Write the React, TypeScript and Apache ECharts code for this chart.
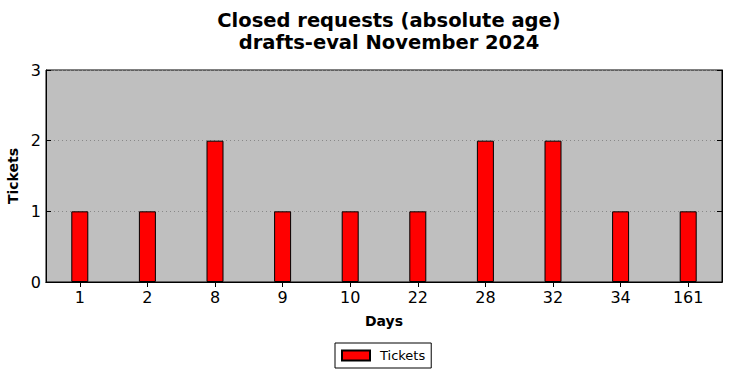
import React, { useEffect, useRef } from "react";
import * as echarts from "echarts";

const categories = ["1", "2", "8", "9", "10", "22", "28", "32", "34", "161"];
const tickets = [1, 1, 2, 1, 1, 1, 2, 2, 1, 1];
const titleLines = ["Closed requests (absolute age)", "drafts-eval November 2024"];

const FONT = "DejaVu Sans";

export default function App() {
  const ref = useRef<HTMLDivElement>(null);
  useEffect(() => {
    if (!ref.current) return;
    const chart = echarts.init(ref.current, null, { renderer: "svg" });
    const tick = { show: true, inside: true, length: 5, alignWithLabel: true, lineStyle: { color: "#000" } };
    chart.setOption({
      animation: false,
      title: {
        text: titleLines.join("\n"),
        left: 384,
        textAlign: "center",
        top: 4,
        textStyle: { fontFamily: FONT, fontWeight: "bold", fontSize: 19.5, color: "#000", lineHeight: 22 },
      },
      grid: {
        left: 46,
        right: 9,
        top: 70,
        bottom: 96,
        outerBoundsMode: "none",
        containLabel: false,
        show: true,
        backgroundColor: "#bfbfbf",
        borderColor: "#000",
        borderWidth: 1,
      },
      legend: {
        top: 343,
        left: 335,
        data: ["Tickets"],
        icon: "rect",
        itemWidth: 28,
        itemHeight: 10,
        itemGap: 10,
        padding: [6, 6, 6, 6],
        borderColor: "#000",
        borderWidth: 1,
        borderRadius: 0,
        textStyle: { fontFamily: FONT, fontSize: 13, color: "#000", padding: [0, 0, 0, 5] },
      },
      xAxis: [
        {
          type: "category",
          data: categories,
          name: "Days",
          nameLocation: "middle",
          nameGap: 32,
          nameTextStyle: { fontFamily: FONT, fontWeight: "bold", fontSize: 14, color: "#000" },
          axisLine: { lineStyle: { color: "#000" } },
          axisTick: tick,
          axisLabel: { fontFamily: FONT, fontSize: 16, color: "#000", margin: 7 },
        },
        {
          type: "category",
          data: categories,
          position: "top",
          axisLine: { lineStyle: { color: "#000" } },
          axisTick: tick,
          axisLabel: { show: false },
        },
      ],
      yAxis: [
        {
          type: "value",
          min: 0,
          max: 3,
          interval: 1,
          name: "Tickets",
          nameLocation: "middle",
          nameGap: 23,
          nameTextStyle: { fontFamily: FONT, fontWeight: "bold", fontSize: 14, color: "#000" },
          axisLine: { show: true, lineStyle: { color: "#000" } },
          axisTick: { show: true, inside: true, length: 5, lineStyle: { color: "#000" } },
          axisLabel: { fontFamily: FONT, fontSize: 16, color: "#000", margin: 5 },
          splitLine: { show: true, lineStyle: { color: "#888", type: [1, 3], width: 1 } },
        },
        {
          type: "value",
          min: 0,
          max: 3,
          interval: 1,
          position: "right",
          axisLine: { show: true, lineStyle: { color: "#000" } },
          axisTick: { show: true, inside: true, length: 5, lineStyle: { color: "#000" } },
          axisLabel: { show: false },
          splitLine: { show: false },
        },
      ],
      series: [
        {
          name: "Tickets",
          type: "bar",
          data: tickets,
          barWidth: 17,
          itemStyle: { color: "#ff0000", borderColor: "#000", borderWidth: 1 },
        },
      ],
    });
    return () => chart.dispose();
  }, []);
  return <div ref={ref} style={{ width: 731, height: 378, position: "absolute", left: 0, top: 0 }} />;
}
